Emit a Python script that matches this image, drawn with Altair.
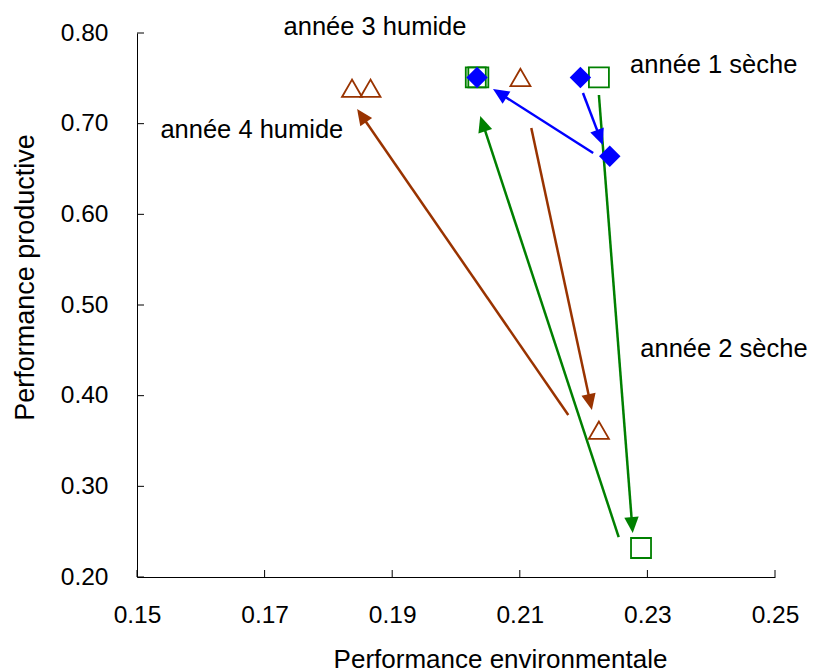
import math
import altair as alt
import pandas as pd

# ---------------- data ----------------
X_DOM = [0.15, 0.25]
Y_DOM = [0.20, 0.80]
x_ticks = [0.15, 0.17, 0.19, 0.21, 0.23, 0.25]
y_ticks = [0.20, 0.30, 0.40, 0.50, 0.60, 0.70, 0.80]

tri_x = [0.1837, 0.1866, 0.2101, 0.2224]
tri_y = [0.739, 0.739, 0.751, 0.362]

sq_x = [0.2031, 0.2035, 0.2224, 0.2290]
sq_y = [0.751, 0.751, 0.751, 0.232]

dia_x = [0.2033, 0.2195, 0.2241]
dia_y = [0.751, 0.751, 0.664]

arrow_series = ["blue", "blue", "green", "green", "brown", "brown"]
arrow_x1 = [0.2199, 0.2215, 0.2224, 0.2255, 0.2118, 0.2176]
arrow_y1 = [0.7338, 0.6676, 0.7316, 0.2441, 0.6952, 0.3787]
arrow_x2 = [0.2230, 0.2058, 0.2277, 0.2038, 0.2213, 0.1845]
arrow_y2 = [0.6765, 0.7382, 0.2485, 0.7085, 0.3842, 0.7162]

labels = ["année 3 humide", "année 1 sèche", "année 4 humide", "année 2 sèche"]
label_x = [0.1873, 0.2404, 0.1680, 0.2420]
label_y = [0.8066, 0.7647, 0.693, 0.4515]

COLORS = {"blue": "#0000ff", "green": "#008000", "brown": "#993300"}
FONT = "Liberation Sans"

W, H = 638, 544

# ---------------- derived tables ----------------
px_x = W / (X_DOM[1] - X_DOM[0])
px_y = H / (Y_DOM[1] - Y_DOM[0])
rows = []
for s, x1, y1, x2, y2 in zip(arrow_series, arrow_x1, arrow_y1, arrow_x2, arrow_y2):
    dx = (x2 - x1) * px_x
    dy = -(y2 - y1) * px_y
    L = math.hypot(dx, dy)
    ux, uy = dx / L, dy / L
    ang = math.degrees(math.atan2(dx, -dy)) % 360
    back = 10.0
    xe = x2 - ux * back / px_x
    ye = y2 + uy * back / px_y
    rows.append(dict(x=x1, y=y1, xe=xe, ye=ye, x2=x2, y2=y2,
                     col=COLORS[s], angle=ang))
arrows = pd.DataFrame(rows)

tri = pd.DataFrame({"x": tri_x, "y": tri_y})
sq = pd.DataFrame({"x": sq_x, "y": sq_y})
dia = pd.DataFrame({"x": dia_x, "y": dia_y})
txt = pd.DataFrame({"x": label_x, "y": label_y, "t": labels})
xt = pd.DataFrame({"x": x_ticks})
yt = pd.DataFrame({"y": y_ticks})

xs = alt.Scale(domain=X_DOM, nice=False, zero=False)
ys = alt.Scale(domain=Y_DOM, nice=False, zero=False)

X_AXIS = alt.Axis(values=x_ticks, format=".2f", title="Performance environmentale",
                  labelPadding=26, labelFlush=False, labelOverlap=False,
                  titleX=363, titleY=82, titleBaseline="middle", titleAlign="center",
                  titleFontSize=26)
Y_AXIS = alt.Axis(values=y_ticks, format=".2f", title="Performance productive",
                  labelPadding=29, labelFlush=False, labelOverlap=False,
                  titleX=-112, titleY=244, titleBaseline="middle", titleAlign="center",
                  titleAngle=270, titleFontSize=27)


def X(field="x"):
    return alt.X(f"{field}:Q", scale=xs, axis=X_AXIS)


def Y(field="y"):
    return alt.Y(f"{field}:Q", scale=ys, axis=Y_AXIS)


xtick = alt.Chart(xt).mark_rule(color="black", strokeWidth=1).encode(
    x=X(), y=alt.value(H), y2=alt.value(H - 7),
)
ytick = alt.Chart(yt).mark_rule(color="black", strokeWidth=1).encode(
    y=Y(), x=alt.value(0), x2=alt.value(7),
)

lines = alt.Chart(arrows).mark_rule(strokeWidth=2.5).encode(
    x=X(), y=Y(), x2="xe:Q", y2="ye:Q",
    color=alt.Color("col:N", scale=None),
)
heads = alt.Chart(arrows).mark_point(
    shape="M0,0L-0.72,1.6L0.72,1.6Z", filled=True, size=400, opacity=1
).encode(
    x=X("x2"), y=Y("y2"),
    angle=alt.Angle("angle:Q", scale=None),
    color=alt.Color("col:N", scale=None),
)

tri_m = alt.Chart(tri).mark_point(shape="triangle-up", size=400, filled=False,
                                  color=COLORS["brown"], strokeWidth=1.8, opacity=1).encode(
    x=X(), y=Y())
sq_m = alt.Chart(sq).mark_point(shape="square", size=400, filled=False,
                                color=COLORS["green"], strokeWidth=1.8, opacity=1).encode(
    x=X(), y=Y())
dia_m = alt.Chart(dia).mark_point(shape="diamond", size=460, filled=True,
                                  color=COLORS["blue"], opacity=1).encode(
    x=X(), y=Y())

text = alt.Chart(txt).mark_text(font=FONT, fontSize=25.5, color="black",
                                align="center", baseline="middle").encode(
    x=X(), y=Y(), text="t:N")

chart = alt.layer(xtick, ytick, lines, heads, tri_m, sq_m, dia_m, text).properties(
    width=W, height=H,
    autosize=alt.AutoSizeParams(type="none"),
    padding={"left": 129, "top": 25, "right": 34, "bottom": 100},
).configure_view(stroke=None).configure_axis(
    grid=False, ticks=False, domainColor="black", domainWidth=1,
    labelFont=FONT, labelFontSize=24.5, labelColor="black",
    titleFont=FONT, titleFontWeight="normal", titleColor="black",
)

chart.save("out.html", embed_options={"renderer": "svg", "actions": False})
